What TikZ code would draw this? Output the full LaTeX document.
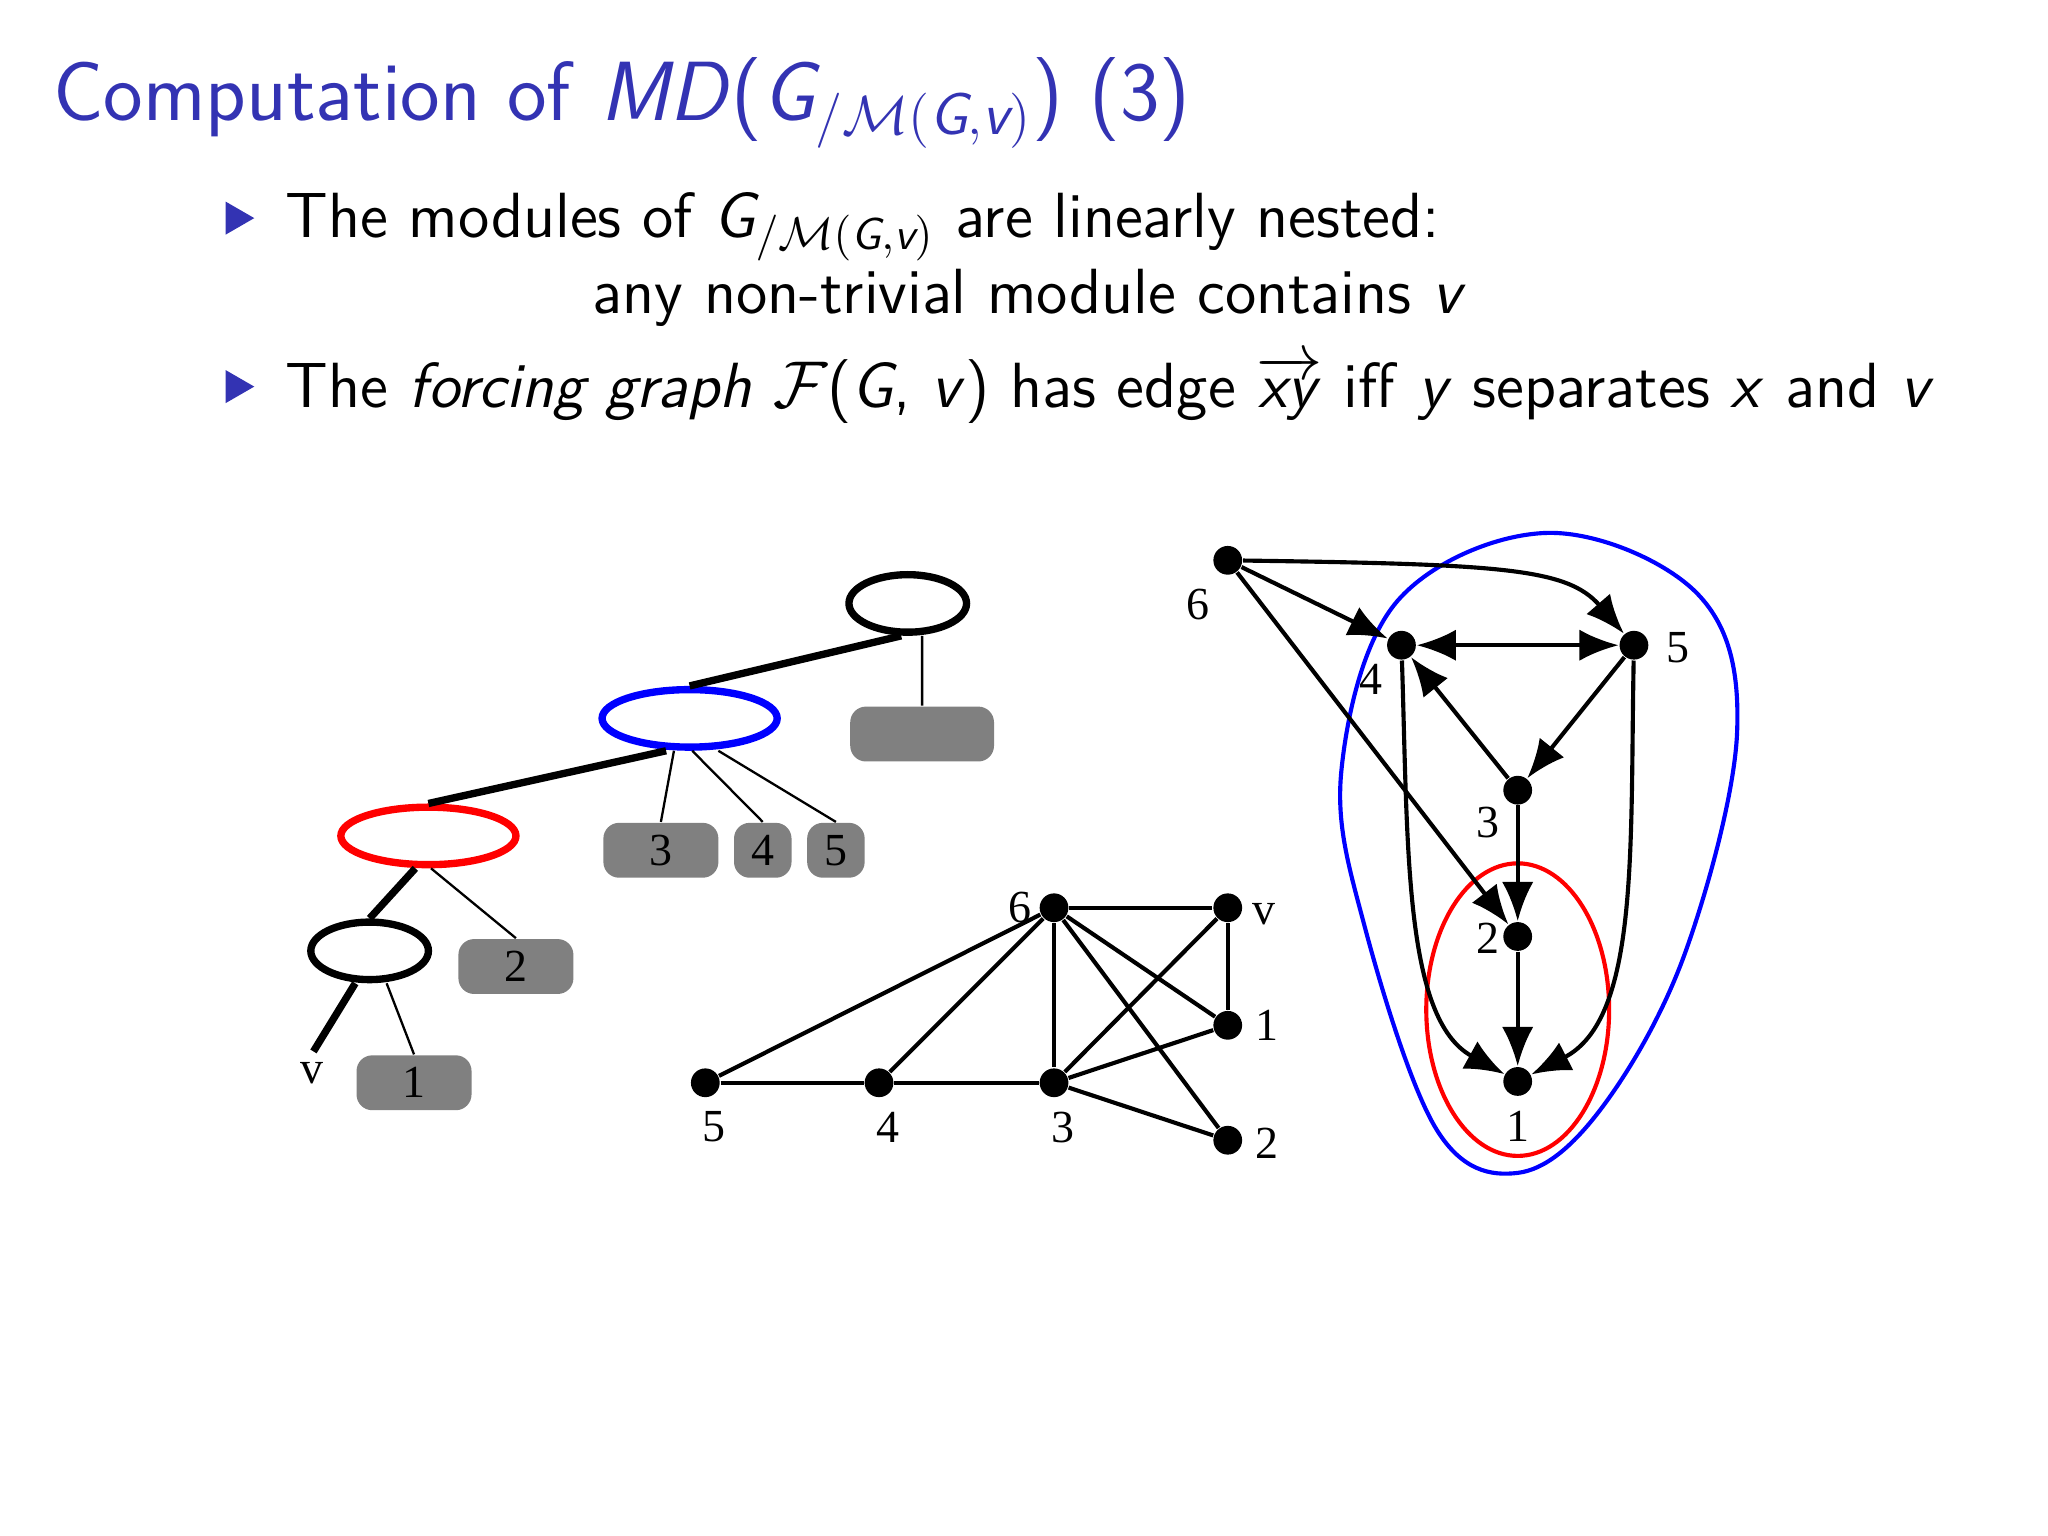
\documentclass[tikz,border=0pt]{standalone}
\usepackage{amsmath}
\usepackage{fontspec}
\setmainfont{Liberation Serif}
\usetikzlibrary{arrows.meta,shapes.geometric}
\definecolor{beamblue}{RGB}{51,51,179}
\definecolor{boxgray}{RGB}{128,128,128}
\newcommand{\si}[1]{\textsf{\itshape #1}}
\tikzset{
 tt/.style={font=\sffamily\fontsize{13.9}{17}\selectfont,anchor=base west,inner sep=0},
 mod/.style={draw,ellipse,line width=1.6pt,minimum width=0.9cm,minimum height=0.44cm,inner sep=0},
 gb/.style={fill=boxgray,rounded corners=0.12cm,minimum height=0.42cm,inner sep=0,font=\fontsize{10}{12}\selectfont},
 dot/.style={circle,fill=black,inner sep=0,minimum size=0.22cm},
 lab/.style={font=\fontsize{10}{12}\selectfont,inner sep=1pt},
 thk/.style={line width=1.6pt},
 thn/.style={line width=0.5pt},
 ge/.style={line width=0.9pt},
 fe/.style={line width=0.9pt,-{Latex[length=0.3cm,width=0.24cm]}},
 bul/.style={isosceles triangle,fill=beamblue,inner sep=0,minimum height=0.22cm,minimum width=0.2cm,isosceles triangle apex angle=60},
}
\begin{document}
\begin{tikzpicture}[x=0.01cm,y=-0.01cm]
\useasboundingbox (0,0) rectangle (1568,1176);
% title
\node[anchor=base west,inner sep=0,text=beamblue,font=\sffamily\fontsize{18.3}{22}\selectfont] (title) at (40,92)
 {Computation of \si{MD}($\si{G}_{/\mathcal{M}(\si{G},\si{v})}$) (3)};
\node[bul] (b1) at (180,167) {};
\node[bul] (b2) at (180,296) {};
\node[tt] (l1) at (218,182) {The modules of $\si{G}_{/\mathcal{M}(\si{G},\si{v})}$ are linearly nested:};
\node[tt] (l2) at (453,240) {any non-trivial module contains \si{v}};
\node[tt] (l3) at (218,312) {The \textit{forcing graph} $\mathcal{F}$(\si{G}, \si{v}) has edge $\overrightarrow{\text{\si{xy}}}$ iff \si{y} separates \si{x} and \si{v}};
% tree
\node[mod,minimum width=0.9cm] (r) at (695,462) {};
\node[mod,draw=blue,minimum width=1.34cm] (bl) at (528,550) {};
\node[mod,draw=red,minimum width=1.34cm] (rd) at (328,640) {};
\node[mod,minimum width=0.9cm] (bk) at (283,728) {};
\node[gb,minimum width=1.1cm] (g6) at (706,562) {};
\node[gb,minimum width=0.88cm] (g3) at (506,651) {3};
\node[gb,minimum width=0.44cm] (g4) at (584,651) {4};
\node[gb,minimum width=0.44cm] (g5) at (640,651) {5};
\node[gb,minimum width=0.88cm] (g2) at (395,740) {2};
\node[gb,minimum width=0.88cm] (g1) at (317,829) {1};
\coordinate (vv) at (240,805);
\node[lab] (vl) at (239,822) {v};
\draw[thk] ([xshift=-0.05cm]r.south) -- (bl.north);
\draw[thn] ([xshift=0.11cm]r.south) -- (g6.north);
\draw[thk] ([xshift=-0.18cm]bl.south) -- (rd.north);
\draw[thn] ([xshift=-0.12cm]bl.south) -- (g3.north);
\draw[thn] ([xshift=0.02cm]bl.south) -- (g4.north);
\draw[thn] ([xshift=0.22cm]bl.south) -- (g5.north);
\draw[thk] ([xshift=-0.1cm]rd.south) -- (bk.north);
\draw[thn] ([xshift=0.02cm]rd.south) -- (g2.north);
\draw[thk] ([xshift=-0.11cm]bk.south) -- (vv);
\draw[thn] ([xshift=0.13cm]bk.south) -- (g1.north);
% graph G
\node[dot] (a6) at (807,695) {};
\node[dot] (av) at (940,695) {};
\node[dot] (a1) at (940,785) {};
\node[dot] (a5) at (540,829) {};
\node[dot] (a4) at (673,829) {};
\node[dot] (a3) at (807,829) {};
\node[dot] (a2) at (940,873) {};
\node[lab] at (781,695) {6};
\node[lab] at (968,700) {v};
\node[lab] at (970,785) {1};
\node[lab] at (547,863) {5};
\node[lab] at (680,863) {4};
\node[lab] at (814,863) {3};
\node[lab] at (970,875) {2};
\foreach \p/\q in {a6/av,av/a1,a6/a1,a6/a5,a6/a4,a6/a3,a6/a2,av/a3,a3/a1,a5/a4,a4/a3,a3/a2}
  \draw[ge] (\p) -- (\q);
% forcing graph
\draw[blue,line width=0.9pt] plot[smooth cycle,tension=0.6] coordinates {(1027,590) (1070,460) (1185,408) (1300,455) (1330,560) (1290,730) (1225,850) (1162,898) (1100,865) (1045,710)};
\draw[red,line width=0.9pt] (1162,773) ellipse [x radius=70, y radius=112];
\node[dot] (f6) at (940,429) {};
\node[dot] (f4) at (1073,494) {};
\node[dot] (f5) at (1251,494) {};
\node[dot] (f3) at (1162,605) {};
\node[dot] (f2) at (1162,717) {};
\node[dot] (f1) at (1162,828) {};
\node[lab] at (917,463) {6};
\node[lab] at (1050,520) {4};
\node[lab] at (1285,496) {5};
\node[lab] at (1139,630) {3};
\node[lab] at (1139,718) {2};
\node[lab] at (1162,862) {1};
\draw[fe] (f6) -- (f4);
\draw[fe] (f6) .. controls (1150,432) and (1200,435) .. (f5);
\draw[fe] (f6) -- (f2);
\draw[fe,{Latex[length=0.3cm,width=0.24cm]}-{Latex[length=0.3cm,width=0.24cm]}] (f4) -- (f5);
\draw[fe] (f5) -- (f3);
\draw[fe] (f3) -- (f4);
\draw[fe] (f3) -- (f2);
\draw[fe] (f2) -- (f1);
\draw[fe] (f4) .. controls (1078,650) and (1075,780) .. (f1);
\draw[fe] (f5) .. controls (1248,650) and (1255,780) .. (f1);
\end{tikzpicture}
\end{document}
